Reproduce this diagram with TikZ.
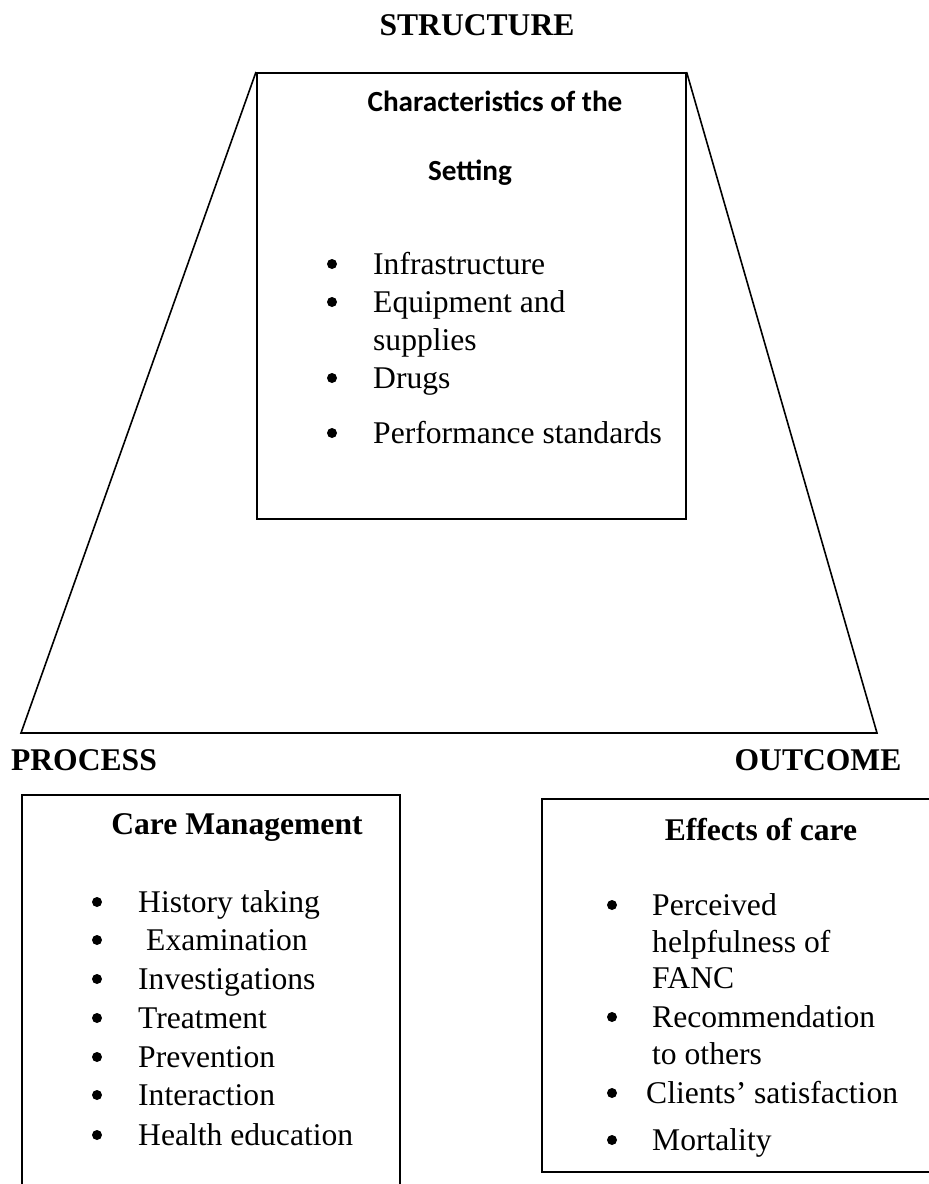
\documentclass[tikz,border=0pt]{standalone}
\usepackage{fontspec}
\setmainfont{Liberation Serif}
\newfontfamily\calib{Carlito}
\begin{document}
\begin{tikzpicture}[x=1pt,y=-1pt,
  txt/.style={inner sep=0pt, anchor=base west, font=\fontsize{31.6}{38}\selectfont},
  hd/.style={inner sep=0pt, anchor=base, font=\fontsize{31.6}{38}\selectfont\bfseries},
  chd/.style={inner sep=0pt, anchor=base, font=\fontsize{29.2}{36}\selectfont\calib\bfseries},
  bul/.style={circle, fill=black, inner sep=0pt, minimum size=10pt},
  frame/.style={draw=black, line width=1.6pt},
  boxst/.style={frame, rectangle, inner sep=0pt, anchor=north west}]
\useasboundingbox (0,0) rectangle (929,1184);
\clip (0,0) rectangle (929,1184);

% structure part
\node[hd] (structure) at (477,35) {STRUCTURE};
\node[boxst, minimum width=429pt, minimum height=446pt] (sbox) at (256,72) {};
\coordinate (pl) at (21,733);
\coordinate (pr) at (877,733);
\draw[frame, line join=miter] (sbox.north west) -- (pl) -- (pr) -- (sbox.north east);

\node[chd] (char) at (495,111) {Characteristics of the};
\node[chd] (setting) at (470,180) {Setting};

\node[bul] (sb1) at (332,264) {};
\node[txt] (s1) at (373,274) {Infrastructure};
\node[bul] (sb2) at (332,302) {};
\node[txt] (s2) at (373,312) {Equipment and};
\node[txt] (s2b) at (373,350) {supplies};
\node[bul] (sb3) at (332,378) {};
\node[txt] (s3) at (373,388) {Drugs};
\node[bul] (sb4) at (332,433) {};
\node[txt] (s4) at (373,443) {Performance standards};

% process part
\node[hd] (process) at (84,770) {PROCESS};
\node[boxst, minimum width=378pt, minimum height=440pt] (pbox) at (21,794) {};
\node[hd] (care) at (237,834) {Care Management};
\node[bul] (pb1) at (97,902) {};
\node[txt] (p1) at (138,912) {History taking};
\node[bul] (pb2) at (97,940) {};
\node[txt] (p2) at (146,950) {Examination};
\node[bul] (pb3) at (97,979) {};
\node[txt] (p3) at (138,989) {Investigations};
\node[bul] (pb4) at (97,1018) {};
\node[txt] (p4) at (138,1028) {Treatment};
\node[bul] (pb5) at (97,1057) {};
\node[txt] (p5) at (138,1067) {Prevention};
\node[bul] (pb6) at (97,1095) {};
\node[txt] (p6) at (138,1105) {Interaction};
\node[bul] (pb7) at (97,1135) {};
\node[txt] (p7) at (138,1145) {Health education};

% outcome part
\node[hd] (outcome) at (818,770) {OUTCOME};
\node[boxst, minimum width=430pt, minimum height=373pt] (obox) at (541,798) {};
\node[hd] (effects) at (761,840) {Effects of care};
\node[bul] (ob1) at (612,905) {};
\node[txt] (o1) at (652,915) {Perceived};
\node[txt] (o1b) at (652,952) {helpfulness of};
\node[txt] (o1c) at (652,988) {FANC};
\node[bul] (ob2) at (612,1017) {};
\node[txt] (o2) at (652,1027) {Recommendation};
\node[txt] (o2b) at (652,1064) {to others};
\node[bul] (ob3) at (612,1093) {};
\node[txt] (o3) at (646,1103) {Clients’ satisfaction};
\node[bul] (ob4) at (612,1140) {};
\node[txt] (o4) at (652,1150) {Mortality};
\end{tikzpicture}
\end{document}
